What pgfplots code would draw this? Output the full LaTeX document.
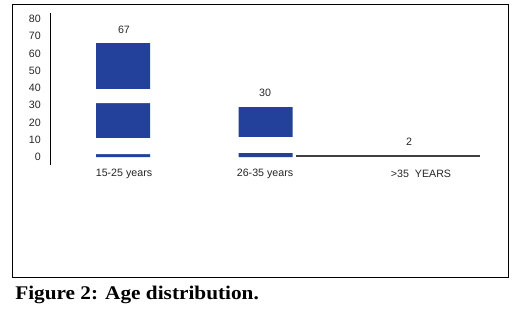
\documentclass[border=0pt]{standalone}
\usepackage{fontspec}
\setmainfont{Liberation Sans}
\newfontfamily\capfont[FakeStretch=1.1]{Liberation Serif}
\usepackage{pgfplots}
\pgfplotsset{compat=1.18}
\definecolor{barblue}{HTML}{23409A}
\begin{document}
\begin{tikzpicture}[x=1pt,y=1pt]
\useasboundingbox (-38.25,-111) rectangle (347.25,123.75);
\draw[line width=0.75pt,black] (-28.5,-84.75) rectangle (342.75,120);
\node[anchor=base west,inner sep=0pt,font=\capfont\bfseries\fontsize{14.5}{16}\selectfont] at (-27,-101.25) {Figure 2: Age distribution.};
\begin{axis}[
  at={(0,0)}, anchor=south west,
  scale only axis, width=336.75pt, height=114pt,
  xmin=51, xmax=500, ymin=-4.6, ymax=83.5,
  axis y line=left, axis x line=none,
  y axis line style={-, line width=0.75pt, black},
  ytick={0,10,...,80},
  ytick style={draw=none},
  yticklabel style={font=\fontsize{8}{9}\selectfont, text=black!85, xshift=-2pt},
  /pgf/number format/assume math mode=true,
  clip=false,
]
% bars (values 67, 30, 2)
\addplot[ybar, bar width=54, fill=barblue, draw=none] coordinates {(123,66) (265.5,29)};
\addplot[ybar, bar width=184, fill=black!75, draw=none] coordinates {(388,1.4)};
% white scan gaps in the bars
\addplot[fill=white, draw=none] coordinates {(95,1.7) (151,1.7) (151,11) (95,11) (95,1.7)};
\addplot[fill=white, draw=none] coordinates {(95,31.3) (151,31.3) (151,39.4) (95,39.4) (95,31.3)};
\addplot[fill=white, draw=none] coordinates {(238,2.4) (293,2.4) (293,11.6) (238,11.6) (238,2.4)};
% value labels
\node[font=\fontsize{8}{9}\selectfont, text=black!85] at (axis cs:124,73.5) {67};
\node[font=\fontsize{8}{9}\selectfont, text=black!85] at (axis cs:265,37.1) {30};
\node[font=\fontsize{8}{9}\selectfont, text=black!85] at (axis cs:409,8.7) {2};
% category labels
\node[font=\fontsize{8}{9}\selectfont, text=black!85] at (axis cs:124,-9.9) {15-25 years};
\node[font=\fontsize{8}{9}\selectfont, text=black!85] at (axis cs:265,-9.9) {26-35 years};
\node[font=\fontsize{8}{9}\selectfont, text=black!85] at (axis cs:421,-9.9) {>35\ \ YEARS};
\end{axis}
\end{tikzpicture}
\end{document}
